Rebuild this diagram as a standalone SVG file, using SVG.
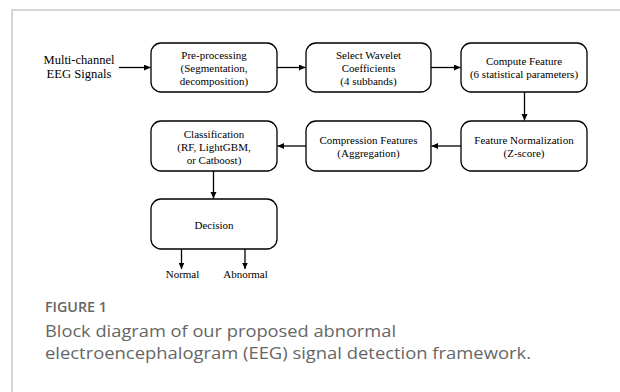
<svg xmlns="http://www.w3.org/2000/svg" width="620" height="392" viewBox="0 0 620 392">
<style>
.box{fill:#fff;stroke:#000;stroke-width:1.3}
.t{font-family:"Liberation Serif","Times New Roman",serif;font-size:11px;fill:#000;text-anchor:middle}
.in{font-family:"Liberation Serif","Times New Roman",serif;font-size:12.5px;fill:#000;text-anchor:middle}
.c{stroke:#000;stroke-width:1.3;fill:none;marker-end:url(#ah)}
.cap{font-family:"Open Sans","Liberation Sans",sans-serif;fill:#666}
.frame{stroke:#c8c8c8;stroke-width:1.5;fill:none}
</style>
<defs>
<marker id="ah" markerUnits="userSpaceOnUse" markerWidth="8" markerHeight="7" refX="6.5" refY="3" orient="auto">
<path d="M0,0 L6.5,3 L0,6 z" fill="#000"/>
</marker>
</defs>
<rect width="620" height="392" fill="#fff"/>
<path class="frame" d="M620,10 H12 V392"/>

<g id="input">
<text class="in" x="79" y="64" textLength="71" lengthAdjust="spacingAndGlyphs">Multi-channel</text>
<text class="in" x="79" y="77.5" textLength="65" lengthAdjust="spacingAndGlyphs">EEG Signals</text>
</g>

<g id="preprocessing">
<rect class="box" x="151" y="43" width="126" height="49" rx="10"/>
<text class="t" x="214" y="58.5">Pre-processing</text>
<text class="t" x="214" y="71.5">(Segmentation,</text>
<text class="t" x="214" y="84.5">decomposition)</text>
</g>

<g id="select">
<rect class="box" x="306" y="43" width="125" height="49" rx="10"/>
<text class="t" x="368.5" y="58.5">Select Wavelet</text>
<text class="t" x="368.5" y="71.5">Coefficients</text>
<text class="t" x="368.5" y="84.5">(4 subbands)</text>
</g>

<g id="compute">
<rect class="box" x="461" y="43" width="126" height="49" rx="10"/>
<text class="t" x="524" y="65">Compute Feature</text>
<text class="t" x="524" y="78">(6 statistical parameters)</text>
</g>

<g id="normalization">
<rect class="box" x="461" y="121" width="126" height="50" rx="10"/>
<text class="t" x="524" y="143.5">Feature Normalization</text>
<text class="t" x="524" y="156.5">(Z-score)</text>
</g>

<g id="compression">
<rect class="box" x="306" y="121" width="125" height="50" rx="10"/>
<text class="t" x="368.5" y="143.5">Compression Features</text>
<text class="t" x="368.5" y="156.5">(Aggregation)</text>
</g>

<g id="classification">
<rect class="box" x="151" y="121" width="126" height="50" rx="10"/>
<text class="t" x="214" y="137.5">Classification</text>
<text class="t" x="214" y="150.5">(RF, LightGBM,</text>
<text class="t" x="214" y="163.5">or Catboost)</text>
</g>

<g id="decision">
<rect class="box" x="151" y="199" width="126" height="50" rx="10"/>
<text class="t" x="214" y="228.5">Decision</text>
</g>

<g id="outputs">
<text class="t" x="182.5" y="278">Normal</text>
<text class="t" x="245.5" y="277.5">Abnormal</text>
</g>

<g id="connectors">
<path class="c" d="M119,67.5 H150.5"/>
<path class="c" d="M277,67.5 H305.5"/>
<path class="c" d="M431,67.5 H460.5"/>
<path class="c" d="M524.5,92 V120.5"/>
<path class="c" d="M461,146 H431.5"/>
<path class="c" d="M306,146 H277.5"/>
<path class="c" d="M213.5,171 V198.5"/>
<path class="c" d="M181.5,249 V269"/>
<path class="c" d="M245,249 V269"/>
</g>

<g id="caption">
<text class="cap" x="45" y="312" font-size="14" font-weight="600" textLength="62" lengthAdjust="spacingAndGlyphs">FIGURE 1</text>
<text class="cap" x="45" y="337" font-size="17" textLength="351" lengthAdjust="spacingAndGlyphs">Block diagram of our proposed abnormal</text>
<text class="cap" x="45" y="358.5" font-size="17" textLength="486" lengthAdjust="spacingAndGlyphs">electroencephalogram (EEG) signal detection framework.</text>
</g>
</svg>
